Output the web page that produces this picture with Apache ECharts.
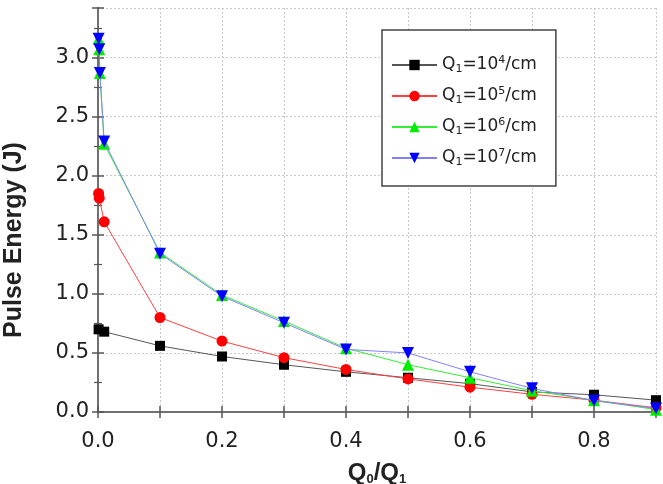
<!DOCTYPE html>
<html><head><meta charset="utf-8">
<script src="https://cdn.jsdelivr.net/npm/echarts@6/dist/echarts.min.js"></script>
<style>html,body{margin:0;padding:0;background:#fff}#c{width:663px;height:484px}</style>
</head><body><div id="c"></div>
<script>
// data
const xs = [0.001, 0.002, 0.003, 0.01, 0.1, 0.2, 0.3, 0.4, 0.5, 0.6, 0.7, 0.8, 0.9];
const seriesNames = ['Q1=1e4', 'Q1=1e5', 'Q1=1e6', 'Q1=1e7'];
const legendLabels = ['Q{sub|1}=10{sup|4}/cm', 'Q{sub|1}=10{sup|5}/cm', 'Q{sub|1}=10{sup|6}/cm', 'Q{sub|1}=10{sup|7}/cm'];
const q1e4 = [0.70, null, null, 0.68, 0.56, 0.47, 0.40, 0.34, 0.29, 0.24, 0.17, 0.146, 0.10];
const q1e5 = [1.85, 1.81, null, 1.61, 0.80, 0.60, 0.46, 0.36, 0.28, 0.21, 0.15, 0.10, 0.035];
const q1e6 = [3.16, 3.07, 2.87, 2.27, 1.35, 0.99, 0.77, 0.54, 0.40, 0.29, 0.18, 0.10, 0.02];
const q1e7 = [3.16, 3.07, 2.87, 2.29, 1.34, 0.98, 0.755, 0.53, 0.50, 0.34, 0.20, 0.095, 0.03];
const xTicks = [0, 0.2, 0.4, 0.6, 0.8];
const yTicks = [0, 0.5, 1.0, 1.5, 2.0, 2.5, 3.0];
const yTitle = 'Pulse Energy (J)';

function pairs(vals){ const out=[]; vals.forEach((v,i)=>{ if(v!==null) out.push([xs[i], v]); }); return out; }

const chart = echarts.init(document.getElementById('c'));
const FONT = 'Liberation Sans, Arial, sans-serif';
const NFONT = 'DejaVu Sans, sans-serif';
const frame = {lineStyle:{color:'#707070', width:2}};
const rich = {
  base:{fontSize:17, lineHeight:20, fontFamily:NFONT, color:'#222'},
  sub:{fontSize:11, lineHeight:20, verticalAlign:'bottom', fontFamily:NFONT, color:'#222'},
  sup:{fontSize:11, lineHeight:20, verticalAlign:'top', fontFamily:NFONT, color:'#222'}
};
function near(v, arr){ return arr.some(t=>Math.abs(t-v)<1e-6); }

const colors = {
  line:['#555555','#ff4040','#33ee33','#8080ff'],
  mark:['#000000','#ff0000','#00ee00','#0000ff'],
  sym:['rect','circle','triangle','triangle'],
  rot:[0,0,0,180]
};
const allData = [q1e4, q1e5, q1e6, q1e7];

chart.setOption({
  animation:false,
  grid:{left:98, right:7, top:8, bottom:72, outerBoundsMode:'none', containLabel:false},
  legend:{
    orient:'vertical', left:382, top:30,
    padding:[25,19,18,9], itemGap:11, itemWidth:45, itemHeight:13,
    borderColor:'#444', borderWidth:1.5, backgroundColor:'#fff',
    data:seriesNames,
    formatter:(n)=>legendLabels[seriesNames.indexOf(n)],
    textStyle:{fontFamily:NFONT, fontSize:17, lineHeight:20, color:'#222', rich:rich}
  },
  graphic:[{
    type:'text', x:14, y:240, rotation:Math.PI/2,
    style:{text:yTitle, fontFamily:FONT, fontSize:25, fontWeight:'bold', fill:'#222',
      textAlign:'center', textVerticalAlign:'middle'}
  }],
  xAxis:[{
    type:'value', min:0, max:0.9, interval:0.1,
    name:'Q{sub|0}/Q{sub|1}', nameLocation:'middle', nameGap:49,
    nameTextStyle:{fontFamily:FONT, fontSize:24, fontWeight:'bold', color:'#222',
      rich:{sub:{fontSize:13, fontWeight:'bold', verticalAlign:'bottom', padding:[12,0,0,0], fontFamily:FONT, color:'#222'}}},
    axisLine:frame,
    axisTick:{inside:true, length:6, lineStyle:{color:'#555', width:1.5}},
    axisLabel:{fontFamily:NFONT, fontSize:21, color:'#222', margin:19,
      formatter:(v)=> near(v, xTicks) ? v.toFixed(1) : ''},
    splitLine:{show:true, lineStyle:{color:'#c8c8c8', type:[2,2], width:1}}
  },{
    type:'value', position:'top', min:0, max:0.9, interval:0.1,
    axisLine:frame, axisTick:{inside:true, length:6, lineStyle:{color:'#555', width:1.5}},
    axisLabel:{show:false}, splitLine:{show:false}
  }],
  yAxis:[{
    type:'value', min:0, max:3.42, interval:0.5,
    axisLine:frame,
    axisTick:{inside:true, length:6, lineStyle:{color:'#555', width:1.5}},
    minorTick:{show:true, splitNumber:2, length:4, lineStyle:{color:'#555', width:1.2}},
    axisLabel:{fontFamily:NFONT, fontSize:21, color:'#222', margin:9,
      formatter:(v)=> near(v, yTicks) ? v.toFixed(1) : ''},
    splitLine:{show:true, lineStyle:{color:'#c8c8c8', type:[2,2], width:1}}
  },{
    type:'value', position:'right', min:0, max:3.42, interval:0.5,
    axisLine:frame,
    axisTick:{inside:true, length:6, lineStyle:{color:'#555', width:1.5}},
    minorTick:{show:true, splitNumber:2, length:4, lineStyle:{color:'#555', width:1.2}},
    axisLabel:{show:false}, splitLine:{show:false}
  }],
  series: allData.map((d,i)=>({
    name:seriesNames[i], type:'line', data:pairs(d),
    symbol:colors.sym[i], symbolRotate:colors.rot[i], symbolSize: i===1?11:(i===0?10:12),
    showAllSymbol:true,
    lineStyle:{color:colors.line[i], width:1},
    itemStyle:{color:colors.mark[i]},
    z: 2+i
  }))
});
</script></body></html>
